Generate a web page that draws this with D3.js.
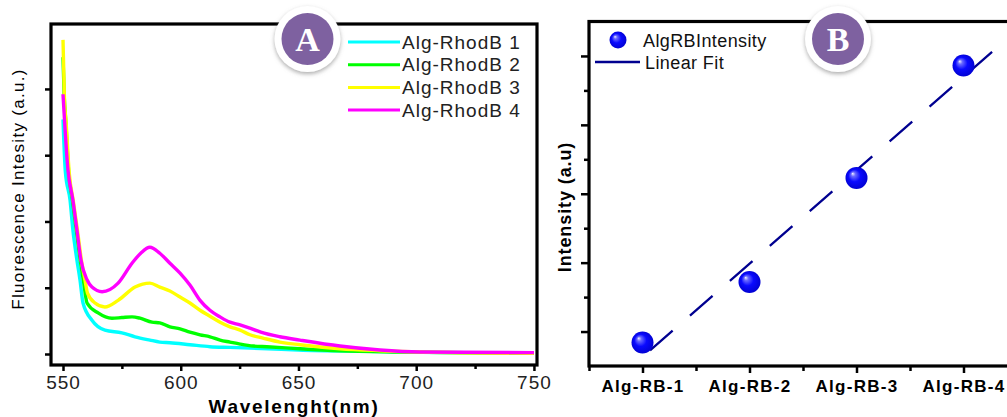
<!DOCTYPE html>
<html><head><meta charset="utf-8">
<script src="https://cdn.jsdelivr.net/npm/d3@7"></script>
<style>html,body{margin:0;padding:0;background:#fff;} svg{display:block;}</style>
</head><body><svg id="c" width="1007" height="417"></svg>
<script>
// ---------- Panel A data (wavelength nm, fluorescence a.u.) ----------
const seriesNames = ["Alg-RhodB 1", "Alg-RhodB 2", "Alg-RhodB 3", "Alg-RhodB 4"];
const seriesColors = ["#00ffff", "#00ff00", "#ffff00", "#ff00ff"];

const rhodB1Wl = [550, 551, 553, 554.2, 555.9, 557.2, 558.5, 562.3, 567.8, 575, 580.6, 586.9, 591.1, 595.4, 603.9, 612.4, 620.9, 629.4, 637, 650, 680, 710, 750];
const rhodB1Int = [3.54, 2.75, 2.32, 1.87, 1.42, 1.12, 0.77, 0.51, 0.36, 0.32, 0.26, 0.21, 0.18, 0.17, 0.14, 0.11, 0.10, 0.09, 0.08, 0.06, 0.04, 0.02, 0.01];

const rhodB2Wl = [550, 550.5, 551.2, 552.4, 554.1, 555.7, 557.3, 558.7, 560.2, 564.9, 570.8, 575, 579.3, 582.7, 587.8, 591.1, 595.4, 599.7, 603.9, 608.2, 612.4, 616.7, 620.9, 625.2, 630.8, 636.6, 650.6, 667.6, 693, 750];
const rhodB2Int = [4.48, 3.9, 3.5, 2.75, 2.3, 1.85, 1.42, 1.1, 0.77, 0.62, 0.54, 0.55, 0.56, 0.54, 0.48, 0.47, 0.41, 0.38, 0.33, 0.29, 0.26, 0.21, 0.18, 0.15, 0.12, 0.11, 0.08, 0.05, 0.03, 0.01];

const rhodB3Wl = [550, 550.6, 551.3, 552.6, 554.4, 556.2, 557.8, 559.3, 560.4, 563.6, 567.8, 573.4, 580.6, 586.9, 591.1, 595.4, 599.7, 603.9, 608.2, 612.4, 616.7, 620.9, 625.2, 629.4, 634.9, 642.1, 650.6, 667.6, 684.6, 701.6, 750];
const rhodB3Int = [4.74, 3.86, 3.50, 2.75, 2.30, 1.85, 1.42, 1.12, 0.92, 0.77, 0.71, 0.81, 1.01, 1.07, 1.01, 0.95, 0.86, 0.77, 0.66, 0.57, 0.48, 0.41, 0.36, 0.29, 0.24, 0.18, 0.14, 0.08, 0.05, 0.03, 0.01];

const rhodB4Wl = [550, 552.1, 554.2, 555.9, 557.6, 560.2, 562.3, 566.6, 573.4, 579.3, 583, 586.9, 591.1, 595.4, 599.7, 603.9, 608.2, 612.4, 616.7, 620.9, 625.2, 629.4, 634, 642.1, 650.6, 667.6, 684.6, 701.6, 750];
const rhodB4Int = [3.92, 2.78, 2.32, 1.87, 1.42, 1.12, 1.01, 0.94, 1.07, 1.37, 1.52, 1.61, 1.52, 1.37, 1.22, 1.04, 0.81, 0.66, 0.56, 0.48, 0.44, 0.39, 0.33, 0.26, 0.21, 0.12, 0.06, 0.03, 0.02];

const xTicksA = [550, 600, 650, 700, 750];
const xMinorTicksA = [575, 625, 675, 725];
const yTicksA = [0, 1, 2, 3, 4];

// ---------- Panel B data ----------
const categoriesB = ["Alg-RB-1", "Alg-RB-2", "Alg-RB-3", "Alg-RB-4"];
const intensityB = [0.84, 1.72, 3.23, 4.86];
const fitX = [1, 4.32];
const fitY = [0.63, 5.13];
const yMajorTicksB = [1, 2, 3, 4, 5];
const yMinorTicksB = [1.5, 2.5, 3.5, 4.5];
const xMinorTicksB = [0.5, 1.5, 2.5, 3.5, 4.5];

const svg = d3.select("#c");
const defs = svg.append("defs");

const grad = defs.append("radialGradient").attr("id", "sphere")
  .attr("cx", "50%").attr("cy", "50%").attr("r", "55%").attr("fx", "32%").attr("fy", "30%");
grad.append("stop").attr("offset", "0%").attr("stop-color", "#f0f0ff");
grad.append("stop").attr("offset", "18%").attr("stop-color", "#6a6aff");
grad.append("stop").attr("offset", "50%").attr("stop-color", "#0a0aff");
grad.append("stop").attr("offset", "100%").attr("stop-color", "#0000cc");

const shadow = defs.append("filter").attr("id", "shadow").attr("x", "-50%").attr("y", "-50%").attr("width", "200%").attr("height", "200%");
shadow.append("feDropShadow").attr("dx", 0).attr("dy", 2).attr("stdDeviation", 2.2)
  .attr("flood-color", "#777").attr("flood-opacity", 0.6);

const FONT = "'Liberation Sans', Arial, sans-serif";

// ================= Panel A =================
const xA = d3.scaleLinear().domain([544.9, 751.3]).range([51, 537]);
const yA = d3.scaleLinear().domain([-0.166, 4.98]).range([365, 24]);

defs.append("clipPath").attr("id", "clipA").append("rect")
  .attr("x", xA.range()[0]).attr("y", yA.range()[1])
  .attr("width", xA.range()[1] - xA.range()[0]).attr("height", yA.range()[0] - yA.range()[1]);

const gA = svg.append("g");
const seriesA = [
  {wl: rhodB1Wl, v: rhodB1Int},
  {wl: rhodB2Wl, v: rhodB2Int},
  {wl: rhodB3Wl, v: rhodB3Int},
  {wl: rhodB4Wl, v: rhodB4Int}
];
const lineA = d3.line().curve(d3.curveMonotoneX).x(d => xA(d[0])).y(d => yA(d[1]));
const curveG = gA.append("g").attr("clip-path", "url(#clipA)");
seriesA.forEach((s, i) => {
  curveG.append("path")
    .attr("d", lineA(s.wl.map((w, j) => [w, s.v[j]])))
    .attr("fill", "none").attr("stroke", seriesColors[i])
    .attr("stroke-width", 3.4).attr("stroke-linejoin", "round");
});

// frame
gA.append("rect")
  .attr("x", xA.range()[0]).attr("y", yA.range()[1])
  .attr("width", xA.range()[1] - xA.range()[0]).attr("height", yA.range()[0] - yA.range()[1])
  .attr("fill", "none").attr("stroke", "#000").attr("stroke-width", 3.2);

// axes
const axA = gA.append("g").attr("transform", `translate(0,${yA.range()[0]})`)
  .call(d3.axisBottom(xA).tickValues(xTicksA).tickSize(6).tickPadding(5).tickFormat(d3.format("d")));
axA.select(".domain").remove();
axA.selectAll("line").attr("stroke-width", 2.5);
axA.selectAll("text").attr("font-family", FONT).attr("font-size", 19).attr("letter-spacing", "1px").attr("fill", "#222");

const axAm = gA.append("g").attr("transform", `translate(0,${yA.range()[0]})`)
  .call(d3.axisBottom(xA).tickValues(xMinorTicksA).tickSize(4).tickFormat(""));
axAm.select(".domain").remove();
axAm.selectAll("line").attr("stroke-width", 2.5);

const ayA = gA.append("g").attr("transform", `translate(${xA.range()[0]},0)`)
  .call(d3.axisLeft(yA).tickValues(yTicksA).tickSize(6).tickFormat(""));
ayA.select(".domain").remove();
ayA.selectAll("line").attr("stroke-width", 2.5);

// labels
gA.append("text").attr("x", 294).attr("y", 413).attr("text-anchor", "middle")
  .attr("font-family", FONT).attr("font-weight", "bold").attr("font-size", 19)
  .attr("letter-spacing", "1.7px").attr("fill", "#000").text("Wavelenght(nm)");
gA.append("text").attr("transform", "translate(24,189) rotate(-90)").attr("text-anchor", "middle")
  .attr("font-family", FONT).attr("font-size", 17).attr("letter-spacing", "1.3px")
  .attr("fill", "#000").text("Fluorescence Intesity (a.u.)");

// legend
const legA = gA.append("g");
seriesNames.forEach((n, i) => {
  const yy = 42 + i * 22.7;
  legA.append("line").attr("x1", 348).attr("x2", 400).attr("y1", yy).attr("y2", yy)
    .attr("stroke", seriesColors[i]).attr("stroke-width", 3);
  legA.append("text").attr("x", 402).attr("y", yy + 6.5).attr("font-family", FONT)
    .attr("font-size", 19).attr("letter-spacing", "1px").attr("fill", "#222").text(n);
});

// ================= Panel B =================
const xB = d3.scaleLinear().domain([0.5, 4.5]).range([589, 1017]);
const yB = d3.scaleLinear().domain([0.5, 5.5]).range([366, 21.5]);
const gB = svg.append("g");

gB.append("rect")
  .attr("x", xB.range()[0]).attr("y", yB.range()[1])
  .attr("width", xB.range()[1] - xB.range()[0]).attr("height", yB.range()[0] - yB.range()[1])
  .attr("fill", "none").attr("stroke", "#000").attr("stroke-width", 3.2);

const axB = gB.append("g").attr("transform", `translate(0,${yB.range()[0]})`)
  .call(d3.axisBottom(xB).tickValues([1, 2, 3, 4]).tickSize(7).tickPadding(7).tickFormat(d => categoriesB[d - 1]));
axB.select(".domain").remove();
axB.selectAll("line").attr("stroke-width", 2.5);
axB.selectAll("text").attr("font-family", FONT).attr("font-weight", "bold").attr("font-size", 17)
  .attr("letter-spacing", "1.3px").attr("fill", "#000");
const axBm = gB.append("g").attr("transform", `translate(0,${yB.range()[0]})`)
  .call(d3.axisBottom(xB).tickValues(xMinorTicksB).tickSize(5).tickFormat(""));
axBm.select(".domain").remove();
axBm.selectAll("line").attr("stroke-width", 2.5);

const ayB = gB.append("g").attr("transform", `translate(${xB.range()[0]},0)`)
  .call(d3.axisLeft(yB).tickValues(yMajorTicksB).tickSize(8).tickFormat(""));
ayB.select(".domain").remove();
ayB.selectAll("line").attr("stroke-width", 2.5);
const ayBm = gB.append("g").attr("transform", `translate(${xB.range()[0]},0)`)
  .call(d3.axisLeft(yB).tickValues(yMinorTicksB).tickSize(5).tickFormat(""));
ayBm.select(".domain").remove();
ayBm.selectAll("line").attr("stroke-width", 2.5);

gB.append("text").attr("transform", "translate(571,207) rotate(-90)").attr("text-anchor", "middle")
  .attr("font-family", FONT).attr("font-weight", "bold").attr("font-size", 18)
  .attr("letter-spacing", "0.9px").attr("fill", "#000").text("Intensity (a.u)");

// fit line
gB.append("path")
  .attr("d", d3.line().x(d => xB(d[0])).y(d => yB(d[1]))(fitX.map((v, i) => [v, fitY[i]])))
  .attr("fill", "none").attr("stroke", "#000090").attr("stroke-width", 2.3)
  .attr("stroke-dasharray", "30,23").attr("stroke-dashoffset", 43);

// points
gB.selectAll("circle.pt").data(intensityB).join("circle").attr("class", "pt")
  .attr("cx", (d, i) => xB(i + 1)).attr("cy", d => yB(d)).attr("r", 11)
  .attr("fill", "url(#sphere)");

// legend B
gB.append("circle").attr("cx", 618).attr("cy", 40).attr("r", 8.5).attr("fill", "url(#sphere)");
gB.append("text").attr("x", 643).attr("y", 47).attr("font-family", FONT).attr("font-size", 18)
  .attr("letter-spacing", "0.4px").attr("fill", "#111").text("AlgRBIntensity");
gB.append("line").attr("x1", 595).attr("x2", 640).attr("y1", 62).attr("y2", 62)
  .attr("stroke", "#000090").attr("stroke-width", 2.3);
gB.append("text").attr("x", 645).attr("y", 69).attr("font-family", FONT).attr("font-size", 18)
  .attr("letter-spacing", "0.4px").attr("fill", "#111").text("Linear Fit");

// ================= Badges =================
const badges = [{t: "A", cx: 307.5, cy: 39}, {t: "B", cx: 838, cy: 39}];
badges.forEach(b => {
  const g = svg.append("g");
  g.append("circle").attr("cx", b.cx).attr("cy", b.cy).attr("r", 33).attr("fill", "#fff").attr("filter", "url(#shadow)");
  g.append("circle").attr("cx", b.cx).attr("cy", b.cy).attr("r", 26).attr("fill", "#7e61a0");
  g.append("text").attr("x", b.cx).attr("y", b.cy + 11.5).attr("text-anchor", "middle")
    .attr("font-family", "'Liberation Serif', 'Times New Roman', serif").attr("font-weight", "bold")
    .attr("font-size", 34).attr("fill", "#fff").text(b.t);
});
</script></body></html>
